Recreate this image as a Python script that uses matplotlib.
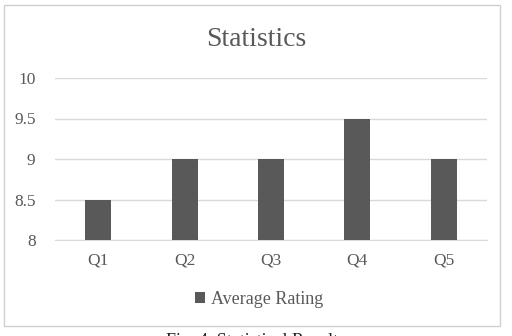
import matplotlib
matplotlib.use("Agg")
import matplotlib.pyplot as plt
from matplotlib.patches import Rectangle

categories = ["Q1", "Q2", "Q3", "Q4", "Q5"]
values = [8.5, 9.0, 9.0, 9.5, 9.0]
yticks = [8, 8.5, 9, 9.5, 10]
ytick_labels = ["8", "8.5", "9", "9.5", "10"]

plt.rcParams['font.family'] = ['Liberation Serif', 'DejaVu Serif']
W, H = 512, 336
fig = plt.figure(figsize=(W/100, H/100), dpi=100)
fig.patch.set_facecolor('white')

# chart border
fig.patches.append(Rectangle((4/W, 1 - 326/H), 496/W, (326-5)/H, transform=fig.transFigure,
                             fill=False, edgecolor='#d0d0d0', linewidth=1.0))

ax = fig.add_axes([55/W, 1 - 240/H, 432/W, (240-78)/H])
x = range(len(categories))
ax.bar(x, values, width=0.30, color='#595959', zorder=3, label='Average Rating')
ax.set_ylim(8, 10)
ax.set_xlim(-0.5, 4.5)
ax.set_yticks(yticks)
ax.set_yticklabels(ytick_labels)
ax.set_xticks(list(x))
ax.set_xticklabels(categories)
ax.grid(axis='y', color='#d9d9d9', linewidth=1.0, zorder=0)
for s in ['top', 'right', 'left']:
    ax.spines[s].set_visible(False)
ax.spines['bottom'].set_color('#d9d9d9')
ax.tick_params(length=0, colors='#595959', labelsize=12.5)
ax.tick_params(axis='y', pad=14)
ax.tick_params(axis='x', pad=9)

fig.text(256/W, 1 - 40/H, "Statistics", ha='center', va='center', fontsize=20, color='#595959')

leg = fig.legend(loc='center', bbox_to_anchor=(259/W, 1 - 299/H), frameon=False,
                 fontsize=13, handlelength=0.55, handleheight=0.55, handletextpad=0.3)
for t in leg.get_texts():
    t.set_color('#595959')

fig.text(256/W, 1 - 341/H, "Fig. 4. Statistical Results", ha='center', va='center', fontsize=13, color='#222222')

fig.savefig("out.png", dpi=100)
